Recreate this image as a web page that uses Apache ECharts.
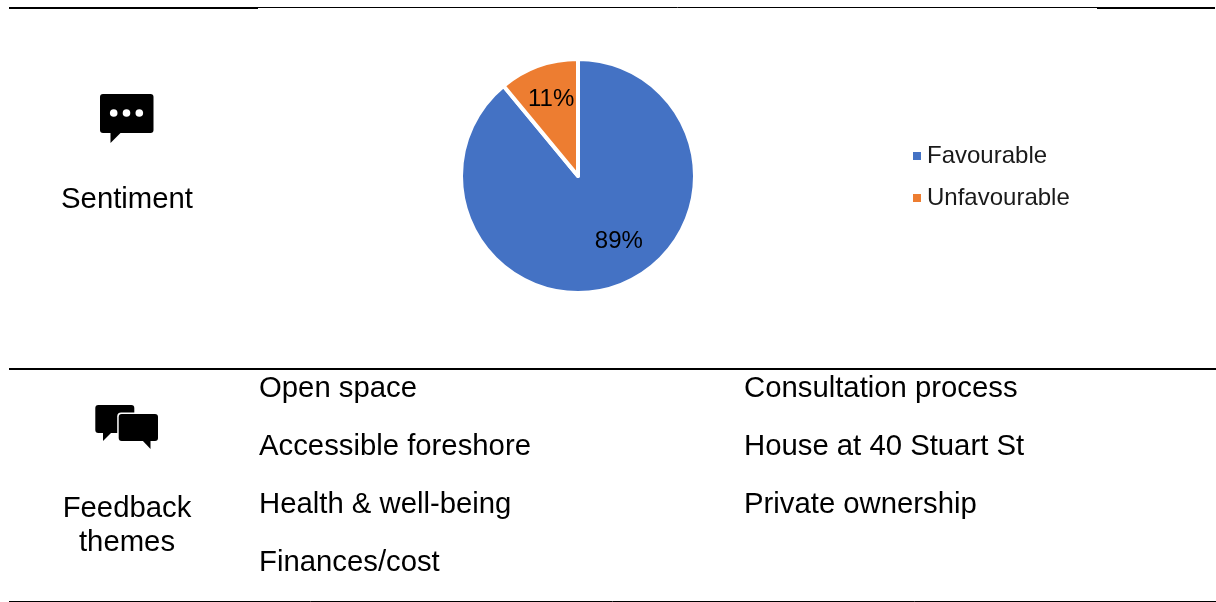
<!DOCTYPE html>
<html>
<head>
<meta charset="utf-8">
<style>html,body{margin:0;padding:0;background:#fff}#c{width:1216px;height:602px}</style>
<script src="https://cdn.jsdelivr.net/npm/echarts@6/dist/echarts.min.js"></script>
</head>
<body>
<div id="c"></div>
<script>
const categories = ['Favourable', 'Unfavourable'];
const sentimentValues = [89, 11];
const sentimentColors = ['#4472C4', '#ED7D31'];
const themesLeft = ['Open space', 'Accessible foreshore', 'Health & well-being', 'Finances/cost'];
const themesRight = ['Consultation process', 'House at 40 Stuart St', 'Private ownership'];
const themeRowsY = [389, 447, 505, 563];
const FONT = '"Liberation Sans", Arial, sans-serif';
const labelOffsets = [[20, 8], [-6, -19]];

function line(x1, y1, x2, y2, w) {
  return { type: 'line', silent: true, shape: { x1, y1, x2, y2 }, style: { stroke: '#000', lineWidth: w } };
}
function text(x, y, t, align) {
  return { type: 'text', silent: true, x, y, style: { text: t, fill: '#000', fontSize: 29.3, fontFamily: FONT, align: align || 'left', verticalAlign: 'middle' } };
}
function box(x, y, w, h, r, extra) {
  return { type: 'rect', silent: true, shape: { x, y, width: w, height: h, r }, style: Object.assign({ fill: '#000' }, extra || {}) };
}
function poly(points) {
  return { type: 'polygon', silent: true, shape: { points }, style: { fill: '#000' } };
}
function dot(cx, cy) {
  return { type: 'circle', silent: true, shape: { cx, cy, r: 3.8 }, style: { fill: '#fff' } };
}

const elements = [
  line(9, 8, 258, 8, 2),
  line(258, 7.5, 1097, 7.5, 1),
  line(1097, 8, 1215, 8, 2),
  line(9, 369, 1216, 369, 2),
  line(9, 601.5, 1216, 601.5, 1),
  // single speech bubble
  box(100, 94, 53.5, 39, 3),
  poly([[110.5, 130], [120.5, 133], [110.5, 143]]),
  dot(113.7, 113), dot(126.5, 113), dot(139.3, 113),
  // double speech bubble
  box(95.3, 405, 39, 28, 3),
  poly([[103, 431], [111, 433], [103, 441]]),
  box(117.2, 412.5, 42.3, 30, 4, { fill: '#fff' }),
  box(118.7, 414, 39.3, 27, 3),
  poly([[142, 440], [150.5, 440], [150.5, 449]]),
  // row headings
  text(127, 200, 'Sentiment', 'center'),
  text(127, 509, 'Feedback', 'center'),
  text(127, 543, 'themes', 'center')
];
themesLeft.forEach((t, i) => elements.push(text(259, themeRowsY[i], t)));
themesRight.forEach((t, i) => elements.push(text(744, themeRowsY[i], t)));

const chart = echarts.init(document.getElementById('c'), null, { renderer: 'canvas' });
chart.setOption({
  animation: false,
  textStyle: { fontFamily: FONT },
  color: sentimentColors,
  legend: {
    orient: 'vertical',
    left: 906,
    top: 139,
    icon: 'rect',
    itemWidth: 10,
    itemHeight: 10,
    itemGap: 18,
    selectedMode: false,
    data: categories,
    textStyle: { fontSize: 24, color: '#1a1a1a', fontFamily: FONT }
  },
  series: [{
    type: 'pie',
    center: [578, 176],
    radius: [0, 117],
    startAngle: 90,
    clockwise: true,
    silent: true,
    itemStyle: { borderColor: '#fff', borderWidth: 4 },
    label: { show: true, position: 'inside', formatter: '{d}%', fontSize: 24, color: '#000', fontFamily: FONT },
    labelLine: { show: false },
    data: categories.map((name, i) => ({
      name,
      value: sentimentValues[i],
      label: { offset: labelOffsets[i] }
    }))
  }],
  graphic: { elements }
});
</script>
</body>
</html>
